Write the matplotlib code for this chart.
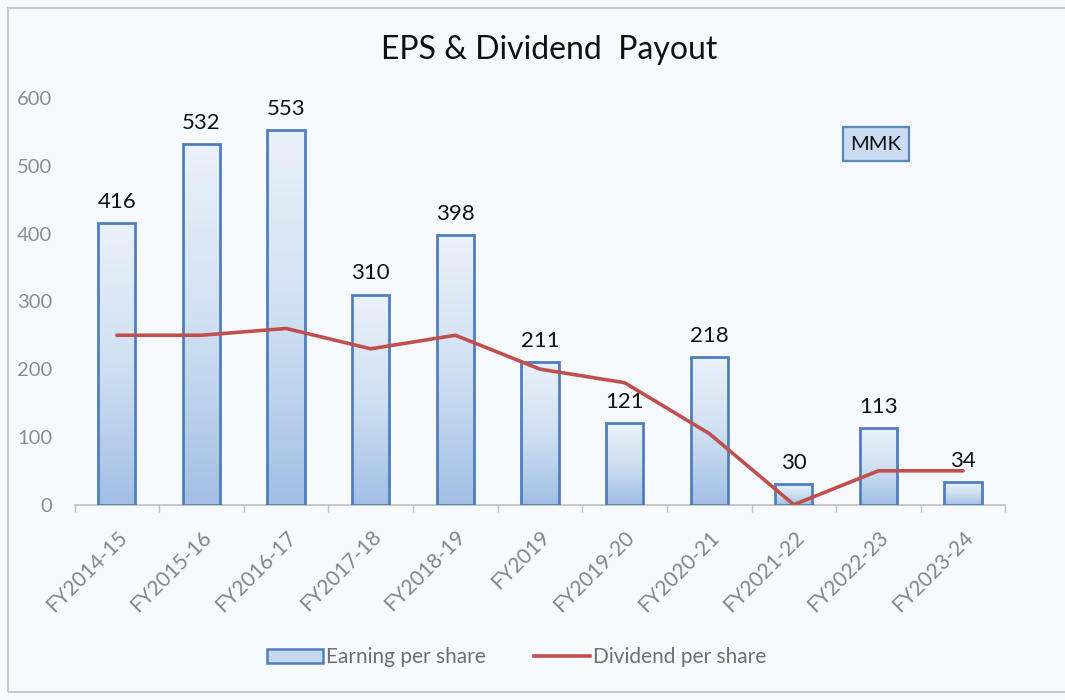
import numpy as np
import matplotlib
matplotlib.use("Agg")
import matplotlib.pyplot as plt
from matplotlib.patches import Rectangle, Patch
from matplotlib.lines import Line2D
from matplotlib.colors import LinearSegmentedColormap

categories = ["FY2014-15", "FY2015-16", "FY2016-17", "FY2017-18", "FY2018-19",
              "FY2019", "FY2019-20", "FY2020-21", "FY2021-22", "FY2022-23", "FY2023-24"]
eps = [416, 532, 553, 310, 398, 211, 121, 218, 30, 113, 34]
dividend = [250, 250, 260, 230, 250, 200, 180, 105, 0, 50, 50]
yticks = [0, 100, 200, 300, 400, 500, 600]

plt.rcParams['font.family'] = ['Lato', 'DejaVu Sans']

bg = '#f6f9fd'
fig = plt.figure(figsize=(10.65, 7.0), dpi=100, facecolor=bg)
ax = fig.add_axes([0.070, 0.279, 0.874, 0.581])
ax.set_facecolor(bg)

x = np.arange(len(categories))
bars = ax.bar(x, eps, width=0.44, color='none', edgecolor='#4f7fbf', linewidth=2.0, zorder=3)

cmap = LinearSegmentedColormap.from_list('g', ['#a2bfe4', '#d0e0f3', '#eaf1fa'])
grad = np.linspace(0, 1, 256).reshape(-1, 1)
for b in bars:
    x0, y0 = b.get_x(), b.get_y()
    w, h = b.get_width(), b.get_height()
    im = ax.imshow(grad, extent=[x0, x0 + w, y0, y0 + h], aspect='auto',
                   cmap=cmap, origin='lower', zorder=2)
    im.set_clip_path(b)

ax.plot(x, dividend, color='#c0504d', linewidth=2.6, zorder=4, solid_capstyle='round')

for xi, v in zip(x, eps):
    ax.annotate(str(v), (xi, v), xytext=(0, 8), textcoords='offset points',
                ha='center', va='bottom', fontsize=16, color='#111111', zorder=5)

ax.set_xlim(-0.5, len(categories) - 0.5)
ax.set_ylim(0, 600)
ax.set_yticks(yticks)
ax.set_yticklabels([str(t) for t in yticks], fontsize=14.5, color='#8c8c8c')
ax.set_xticks(x)
ax.set_xticklabels(categories, rotation=45, ha='right', rotation_mode='anchor',
                   fontsize=15, color='#858585')
ax.set_xticks(np.arange(-0.5, len(categories) + 0.5, 1), minor=True)
ax.tick_params(axis='x', which='major', length=0, pad=16)
ax.tick_params(axis='x', which='minor', length=5, color='#bfbfbf', width=1)
ax.tick_params(axis='y', length=0, pad=16)

for s in ['top', 'right', 'left']:
    ax.spines[s].set_visible(False)
ax.spines['bottom'].set_color('#bfbfbf')
ax.spines['bottom'].set_linewidth(1.2)

fig.text(0.516, 0.928, "EPS & Dividend  Payout", ha='center', va='center',
         fontsize=23, color='#111111')

fig.text(876 / 1065, 1 - 144 / 700, "MMK", ha='center', va='center',
         fontsize=14.5, color='#111111',
         bbox=dict(boxstyle='square,pad=0.4', facecolor='#c9dcf2', edgecolor='#5b87c2', linewidth=1.6))

handles = [Patch(facecolor='#c6d9f0', edgecolor='#4f7fbf', linewidth=1.8),
           Line2D([0], [0], color='#c0504d', linewidth=2.6)]
fig.legend(handles, ["Earning per share", "Dividend per share"], loc='center',
           bbox_to_anchor=(0.485, 0.061), ncol=2, frameon=False, fontsize=15,
           labelcolor='#6f6f6f', handlelength=2.7, handletextpad=0.15, columnspacing=2.3)

fig.patches.append(Rectangle((8 / 1065, 8 / 700), 1.2, 1 - 16 / 700, transform=fig.transFigure,
                             fill=False, edgecolor='#c8c8c8', linewidth=1.5))

fig.savefig('out.png', dpi=100, facecolor=bg)
